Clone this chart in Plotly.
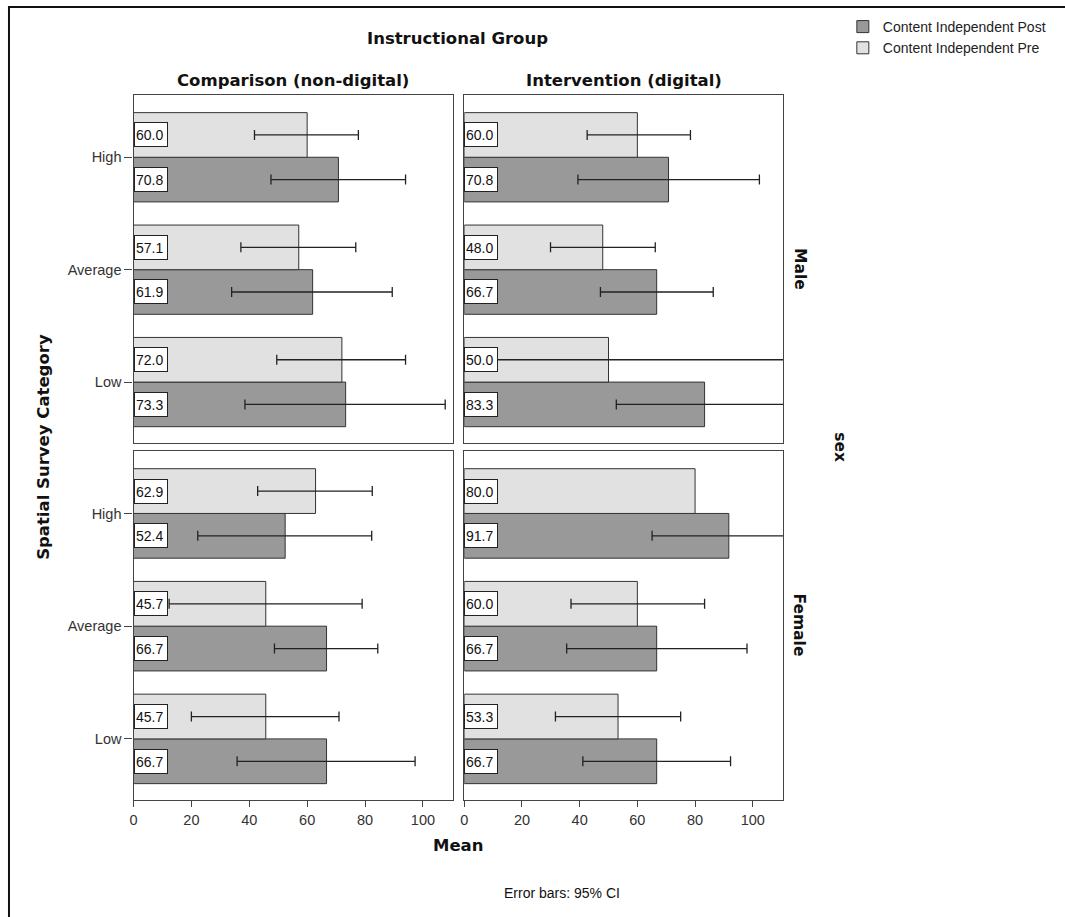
import plotly.graph_objects as go
from plotly.subplots import make_subplots

# ---------------- data ----------------
categories = ["High", "Average", "Low"]
cat_pos = [2, 1, 0]
col_titles = ["Comparison (non-digital)", "Intervention (digital)"]
row_titles = ["Male", "Female"]

# panel order: (row, col)
pre_mean = {
    (1, 1): [60.0, 57.1, 72.0],
    (1, 2): [60.0, 48.0, 50.0],
    (2, 1): [62.9, 45.7, 45.7],
    (2, 2): [80.0, 60.0, 53.3],
}
pre_lo = {
    (1, 1): [41.8, 37.1, 49.5],
    (1, 2): [42.6, 29.9, -20.0],
    (2, 1): [42.9, 12.3, 20.0],
    (2, 2): [None, 37.0, 31.6],
}
pre_hi = {
    (1, 1): [77.7, 76.8, 94.0],
    (1, 2): [78.4, 66.2, 120.0],
    (2, 1): [82.5, 79.0, 71.0],
    (2, 2): [None, 83.3, 75.0],
}
post_mean = {
    (1, 1): [70.8, 61.9, 73.3],
    (1, 2): [70.8, 66.7, 83.3],
    (2, 1): [52.4, 66.7, 66.7],
    (2, 2): [91.7, 66.7, 66.7],
}
post_lo = {
    (1, 1): [47.5, 33.9, 38.5],
    (1, 2): [39.4, 47.2, 52.7],
    (2, 1): [22.2, 48.7, 35.8],
    (2, 2): [65.1, 35.5, 41.1],
}
post_hi = {
    (1, 1): [94.0, 89.4, 107.7],
    (1, 2): [102.3, 86.3, 113.9],
    (2, 1): [82.3, 84.4, 97.3],
    (2, 2): [118.3, 98.0, 92.3],
}
x_ticks = [0, 20, 40, 60, 80, 100]

# ---------------- style ----------------
W, H = 1065, 917
PRE_COLOR = "#e1e1e1"
POST_COLOR = "#999999"
EDGE = "#333333"
AXIS = "#444444"
TICK_FONT = dict(family="Liberation Sans, Arial, sans-serif", size=14.5, color="#333333")
BOLD = "DejaVu Sans, sans-serif"
BARGAP = 0.206
HALF = (1 - BARGAP) / 4.0  # centre offset of each bar within its group

col_px = [(130, 451), (462, 782)]
row_px = [(95, 443), (451, 800)]


def xd(a, b):
    return [a / W, b / W]


def yd(a, b):
    return [1 - b / H, 1 - a / H]


def err_arrays(mean, lo, hi):
    plus, minus = [], []
    for m, l, h in zip(mean, lo, hi):
        if l is None or h is None:
            plus.append("NaN")
            minus.append("NaN")
        else:
            plus.append(round(h - m, 3))
            minus.append(round(m - l, 3))
    return plus, minus


fig = make_subplots(rows=2, cols=2)

annotations = []
for r in (1, 2):
    for c in (1, 2):
        key = (r, c)
        first = key == (1, 1)
        pp, pm = err_arrays(post_mean[key], post_lo[key], post_hi[key])
        fig.add_trace(
            go.Bar(
                name="Content Independent Post",
                orientation="h",
                y=cat_pos,
                x=post_mean[key],
                marker=dict(color=POST_COLOR, line=dict(color=EDGE, width=1)),
                error_x=dict(type="data", symmetric=False, array=pp, arrayminus=pm,
                             color="#222222", thickness=1.3, width=5),
                showlegend=first,
                legendgroup="post",
                hoverinfo="skip",
            ),
            row=r, col=c,
        )
        qp, qm = err_arrays(pre_mean[key], pre_lo[key], pre_hi[key])
        fig.add_trace(
            go.Bar(
                name="Content Independent Pre",
                orientation="h",
                y=cat_pos,
                x=pre_mean[key],
                marker=dict(color=PRE_COLOR, line=dict(color=EDGE, width=1)),
                error_x=dict(type="data", symmetric=False, array=qp, arrayminus=qm,
                             color="#222222", thickness=1.3, width=5),
                showlegend=first,
                legendgroup="pre",
                hoverinfo="skip",
            ),
            row=r, col=c,
        )
        idx = (r - 1) * 2 + c
        xref = "x" if idx == 1 else f"x{idx}"
        yref = "y" if idx == 1 else f"y{idx}"
        for series, sign in ((pre_mean[key], 1), (post_mean[key], -1)):
            for pos, v in zip(cat_pos, series):
                annotations.append(dict(
                    x=0, y=pos + sign * HALF, xref=xref, yref=yref,
                    xanchor="left", yanchor="middle",
                    text=f"{v:.1f}", showarrow=False,
                    font=dict(family="Liberation Sans, Arial, sans-serif", size=14, color="#111111"),
                    bgcolor="white", bordercolor="#222222", borderwidth=1,
                    borderpad=1, width=30, height=21, align="left",
                ))

        # axes
        xaxis_key = "xaxis" if idx == 1 else f"xaxis{idx}"
        yaxis_key = "yaxis" if idx == 1 else f"yaxis{idx}"
        fig.layout[xaxis_key].update(
            domain=xd(*col_px[c - 1]),
            range=[0, 110.5],
            tickvals=x_ticks,
            ticks="outside" if r == 2 else "",
            ticklen=6, tickcolor=AXIS, tickwidth=1.2,
            showticklabels=(r == 2),
            tickfont=TICK_FONT,
            showline=True, mirror=True, linecolor=AXIS, linewidth=1.3,
            showgrid=False, zeroline=False, fixedrange=True,
        )
        fig.layout[yaxis_key].update(
            domain=yd(*row_px[r - 1]),
            range=[-0.542, 2.554],
            tickvals=cat_pos,
            ticktext=categories,
            ticks="outside" if c == 1 else "",
            ticklen=8, tickcolor=AXIS, tickwidth=1.2,
            showticklabels=(c == 1),
            tickfont=TICK_FONT,
            showline=True, mirror=True, linecolor=AXIS, linewidth=1.3,
            showgrid=False, zeroline=False, fixedrange=True,
        )

# titles and facet labels
def ann(text, x, y, size=16.5, angle=0, bold=True, family=BOLD):
    t = f"<b>{text}</b>" if bold else text
    return dict(text=t, x=x / W, y=1 - y / H, xref="paper", yref="paper",
                xanchor="center", yanchor="middle", showarrow=False,
                textangle=angle, font=dict(family=family, size=size, color="#111111"))

annotations.append(ann("Instructional Group", 455.5, 38))
for (a, b), t in zip(col_px, col_titles):
    annotations.append(ann(t, (a + b) / 2, 81))
for (a, b), t in zip(row_px, row_titles):
    annotations.append(ann(t, 799, (a + b) / 2, size=15.5, angle=90))
annotations.append(ann("sex", 839, 447, size=15.5, angle=90))
annotations.append(ann("Spatial Survey Category", 40, 447, angle=-90))
annotations.append(ann("Mean", 456, 845))
annotations.append(ann("Error bars: 95% CI", 560, 893, size=14, bold=False,
                       family="Liberation Sans, Arial, sans-serif"))

shapes = [
    dict(type="line", xref="paper", yref="paper", x0=4 / W, x1=1, y0=1 - 7 / H, y1=1 - 7 / H,
         line=dict(color="#111111", width=2)),
    dict(type="line", xref="paper", yref="paper", x0=5 / W, x1=5 / W, y0=0, y1=1 - 6 / H,
         line=dict(color="#111111", width=2)),
]

fig.update_layout(
    width=W, height=H,
    margin=dict(l=0, r=0, t=0, b=0),
    paper_bgcolor="white", plot_bgcolor="white",
    barmode="group", bargap=BARGAP, bargroupgap=0,
    annotations=annotations,
    shapes=shapes,
    legend=dict(
        x=842 / W, y=1 - 11 / H, xanchor="left", yanchor="top",
        font=dict(family="Liberation Sans, Arial, sans-serif", size=14, color="#222222"),
        bgcolor="rgba(0,0,0,0)", traceorder="normal", tracegroupgap=0,
        itemwidth=30,
    ),
    font=dict(family="Liberation Sans, Arial, sans-serif"),
)

fig.write_html(
    "out.html",
    config={"displayModeBar": False},
    post_script="document.body.style.margin='0';document.body.style.overflow='hidden';",
)
